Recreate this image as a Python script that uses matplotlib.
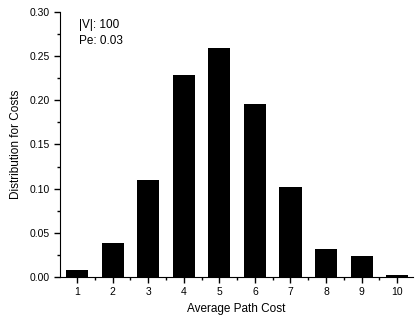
import matplotlib
matplotlib.use("Agg")
import matplotlib.pyplot as plt
from matplotlib.ticker import MultipleLocator

plt.rcParams['font.family'] = ['Liberation Sans', 'DejaVu Sans']

# data
cost = [1, 2, 3, 4, 5, 6, 7, 8, 9, 10]
dist = [0.008, 0.038, 0.110, 0.229, 0.259, 0.196, 0.102, 0.032, 0.024, 0.002]

fig = plt.figure(figsize=(4.18, 3.21), dpi=100)
ax = fig.add_axes([0.1435, 0.137, 0.845, 0.826])

ax.bar(cost, dist, width=0.62, color="black")

ax.set_xlim(0.52, 10.45)
ax.set_ylim(0, 0.30)
ax.set_xticks(cost)
ax.xaxis.set_minor_locator(MultipleLocator(0.5))
ax.yaxis.set_major_locator(MultipleLocator(0.05))
ax.yaxis.set_minor_locator(MultipleLocator(0.025))
ax.yaxis.set_major_formatter(matplotlib.ticker.FormatStrFormatter('%.2f'))

ax.spines['top'].set_visible(False)
ax.spines['right'].set_visible(False)
ax.tick_params(axis='both', which='major', direction='out', length=4, width=1, labelsize=7.5)
ax.tick_params(axis='both', which='minor', direction='out', length=2, width=1)

ax.set_xlabel("Average Path Cost", fontsize=8.5, labelpad=4)
ax.set_ylabel("Distribution for Costs", fontsize=8.5, labelpad=5)

ax.text(0.055, 0.975, "|V|: 100\nPe: 0.03", transform=ax.transAxes,
        fontsize=8.5, va='top', ha='left', linespacing=1.45)

fig.savefig("out.png", dpi=100)
